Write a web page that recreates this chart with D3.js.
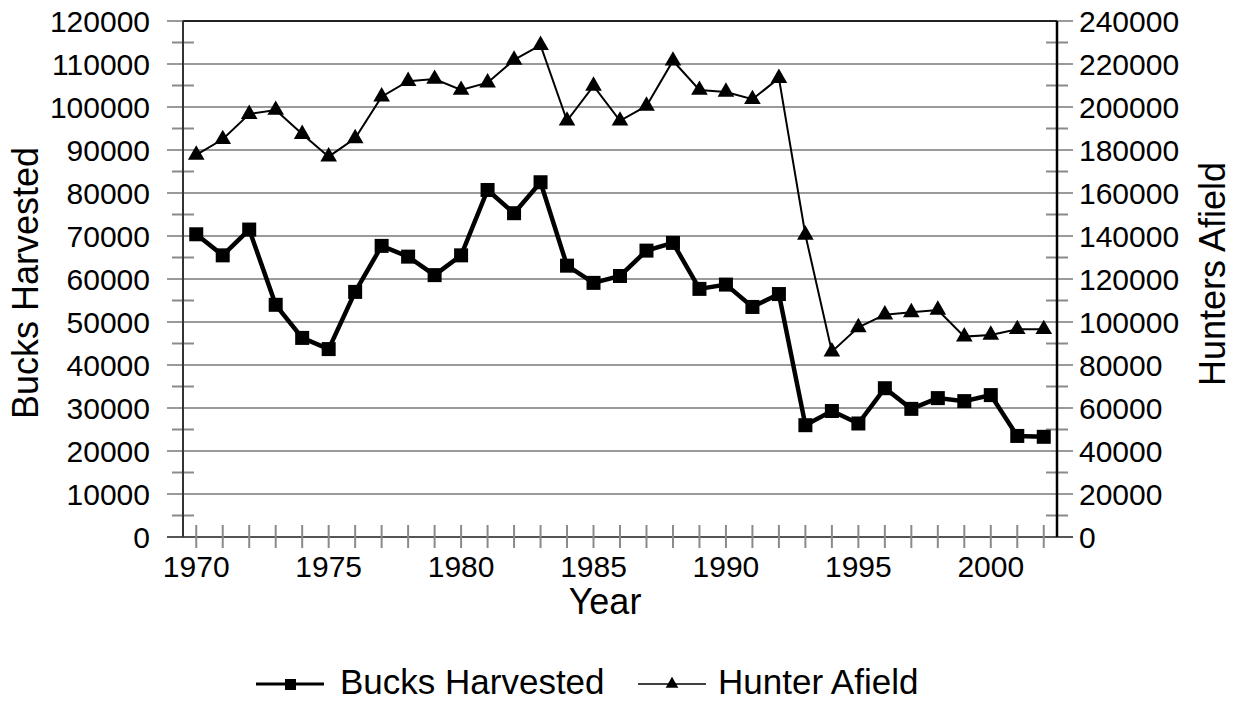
<!DOCTYPE html>
<html><head><meta charset="utf-8">
<script src="https://cdn.jsdelivr.net/npm/d3@7/dist/d3.min.js"></script>
<style>body{margin:0;background:#fff}text{font-family:"Liberation Sans",Arial,sans-serif;fill:#000}</style>
</head><body><svg id="c" width="1241" height="702"></svg>
<script>
const years = d3.range(1970, 2003);
const bucksHarvested = [70400,65500,71500,54000,46300,43700,57000,67700,65200,60900,65500,80700,75300,82500,63100,59100,60700,66600,68400,57700,58700,53500,56500,26000,29300,26400,34600,29800,32300,31600,33000,23500,23300];
const hunterAfield = [177700,185000,196700,198600,187400,176900,185400,204800,212000,213000,207900,211300,221900,228800,193600,209800,193600,200500,221500,207900,207000,203600,213400,140500,86200,97500,103400,104500,105600,93200,94000,96600,96600];
const leftTicks = d3.range(0, 120001, 10000);
const rightTicks = d3.range(0, 240001, 20000);
const xLabelYears = [1970,1975,1980,1985,1990,1995,2000];

const svg = d3.select("#c");
const L=183,R=1057,T=21,B=537;
const x = d3.scaleBand().domain(years).range([L,R]);
const cx = d => x(d)+x.bandwidth()/2;
const yL = d3.scaleLinear().domain([0,120000]).range([B,T]);
const yR = d3.scaleLinear().domain([0,240000]).range([B,T]);

// gridlines
svg.append("g").selectAll("line").data(leftTicks).join("line")
  .attr("x1",167).attr("x2",1073).attr("y1",d=>yL(d)).attr("y2",d=>yL(d))
  .attr("stroke",d=>d===0?"#555":"#9a9a9a").attr("stroke-width",2);
// minor ticks
const minor = d3.range(5000,120000,10000);
svg.append("g").selectAll("line").data(minor).join("line")
  .attr("x1",172).attr("x2",194).attr("y1",d=>yL(d)).attr("y2",d=>yL(d))
  .attr("stroke","#8a8a8a").attr("stroke-width",2);
svg.append("g").selectAll("line").data(minor).join("line")
  .attr("x1",1046).attr("x2",1068).attr("y1",d=>yL(d)).attr("y2",d=>yL(d))
  .attr("stroke","#8a8a8a").attr("stroke-width",2);
// x ticks
svg.append("g").selectAll("line").data(years).join("line")
  .attr("x1",d=>cx(d)).attr("x2",d=>cx(d)).attr("y1",525).attr("y2",548)
  .attr("stroke","#8a8a8a").attr("stroke-width",2);
// axes lines
svg.append("line").attr("x1",L).attr("x2",R).attr("y1",T).attr("y2",T).attr("stroke","#222").attr("stroke-width",2);
svg.append("line").attr("x1",L).attr("x2",L).attr("y1",T).attr("y2",B).attr("stroke","#333").attr("stroke-width",2);
svg.append("line").attr("x1",R).attr("x2",R).attr("y1",T).attr("y2",B).attr("stroke","#000").attr("stroke-width",2.5);

// tick labels
svg.append("g").selectAll("text").data(leftTicks).join("text")
  .attr("x",150).attr("y",d=>yL(d)+11).attr("text-anchor","end")
  .style("font-size","30px").text(d=>d);
svg.append("g").selectAll("text").data(rightTicks).join("text")
  .attr("x",1079).attr("y",d=>yR(d)+11).attr("text-anchor","start")
  .style("font-size","30px").text(d=>d);
svg.append("g").selectAll("text").data(xLabelYears).join("text")
  .attr("x",d=>cx(d)).attr("y",577).attr("text-anchor","middle")
  .style("font-size","30px").text(d=>d);

// titles
svg.append("text").attr("transform","translate(38,283) rotate(-90)").attr("text-anchor","middle")
  .style("font-size","36px").text("Bucks Harvested");
svg.append("text").attr("transform","translate(1225,274) rotate(-90)").attr("text-anchor","middle")
  .style("font-size","36px").text("Hunters Afield");
svg.append("text").attr("x",605).attr("y",614).attr("text-anchor","middle")
  .style("font-size","36px").text("Year");

// series
const lineL = d3.line().x((d,i)=>cx(years[i])).y(d=>yL(d));
const lineR = d3.line().x((d,i)=>cx(years[i])).y(d=>yR(d));
svg.append("path").attr("d",lineR(hunterAfield)).attr("fill","none").attr("stroke","#000").attr("stroke-width",2);
svg.append("path").attr("d",lineL(bucksHarvested)).attr("fill","none").attr("stroke","#000").attr("stroke-width",4.5);
const tri = d3.symbol().type(d3.symbolTriangle).size(120);
svg.append("g").selectAll("path").data(hunterAfield).join("path")
  .attr("transform",(d,i)=>`translate(${cx(years[i])},${yR(d)})`).attr("d",tri).attr("fill","#000");
svg.append("g").selectAll("rect").data(bucksHarvested).join("rect")
  .attr("x",(d,i)=>cx(years[i])-7).attr("y",d=>yL(d)-7).attr("width",14).attr("height",14).attr("fill","#000");

// legend
const lg = svg.append("g");
lg.append("line").attr("x1",256).attr("x2",324).attr("y1",684).attr("y2",684).attr("stroke","#000").attr("stroke-width",3);
lg.append("rect").attr("x",285).attr("y",679).attr("width",11).attr("height",11).attr("fill","#000");
lg.append("text").attr("x",340).attr("y",694).style("font-size","35px").text("Bucks Harvested");
lg.append("line").attr("x1",638).attr("x2",706).attr("y1",684).attr("y2",684).attr("stroke","#000").attr("stroke-width",1.5);
lg.append("path").attr("transform","translate(672,684)").attr("d",d3.symbol().type(d3.symbolTriangle).size(70)).attr("fill","#000");
lg.append("text").attr("x",718).attr("y",694).style("font-size","35px").text("Hunter Afield");
</script></body></html>
